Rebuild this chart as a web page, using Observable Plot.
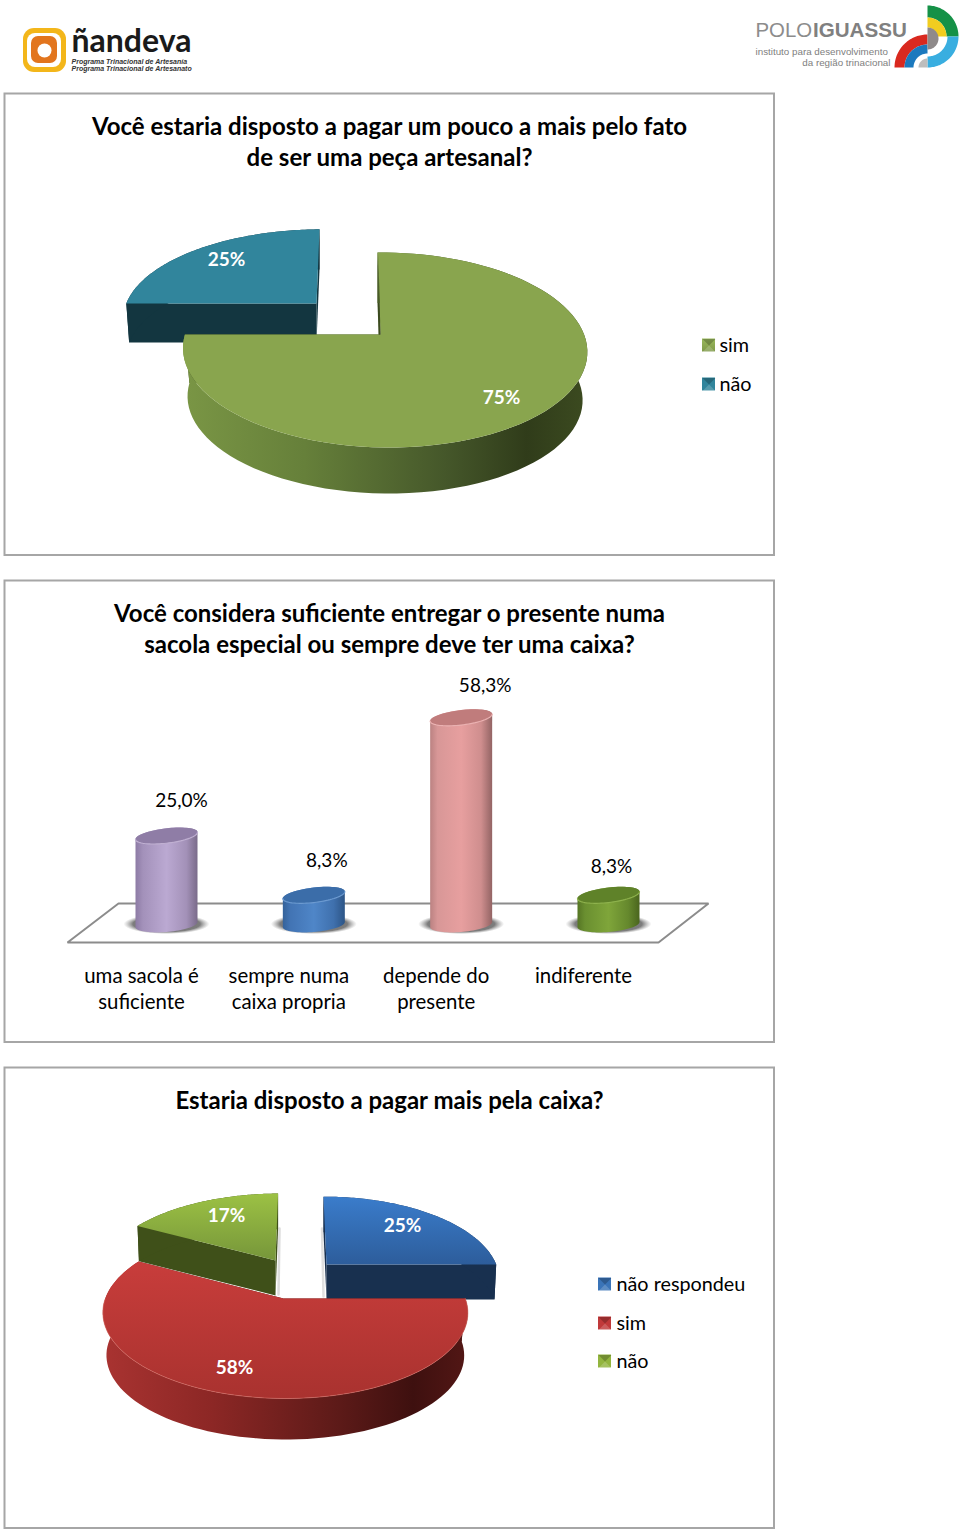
<!DOCTYPE html>
<html lang="pt">
<head>
<meta charset="utf-8">
<script src="https://cdn.jsdelivr.net/npm/d3@7"></script>
<script src="https://cdn.jsdelivr.net/npm/@observablehq/plot@0.6"></script>
<style>
html,body{margin:0;padding:0;background:#fff}
#page{position:relative;width:960px;height:1530px;overflow:hidden}
#page svg{position:absolute;left:0;top:0;display:block}
</style>
</head>
<body>
<div id="page"></div>
<script>
// ---------- data ----------
const q1Title = ["Você estaria disposto a pagar um pouco a mais pelo fato", "de ser uma peça artesanal?"];
const q1Labels = ["sim", "não"];
const q1Values = [75, 25];

const q2Title = ["Você considera suficiente entregar o presente numa", "sacola especial ou sempre deve ter uma caixa?"];
const q2Labels = ["uma sacola é\nsuficiente", "sempre numa\ncaixa propria", "depende do\npresente", "indiferente"];
const q2Values = [25.0, 8.3, 58.3, 8.3];

const q3Title = ["Estaria disposto a pagar mais pela caixa?"];
const q3Labels = ["não respondeu", "sim", "não"];
const q3Values = [25, 58, 17];

// ---------- layout and style ----------
const FONT = "Lato, 'Open Sans', sans-serif";
const SANS = "'Liberation Sans', Arial, sans-serif";

const q1Geom = [
  {cx:380, cy:334, Rx:199.5, Ry:95, k:.159, m:-.02, s:-3.5, d:48.6, taper:.977,
   top:"#89a54e", rim:"url(#rimGreen)", cut:"#3c4b1f"},
  {cx:316, cy:303, Rx:194, Ry:86, k:.159, m:-.02, s:3.5, d:39, taper:.985,
   top:"#31859c", rim:"#133640", cut:"#133640"}
];
const q3Geom = [
  {cx:326, cy:1264, Rx:168, Ry:79, k:.165, m:-.01, s:-3.5, d:35, taper:.99,
   top:"url(#topBlue)", rim:"#18304f", cut:"#18304f"},
  {cx:283, cy:1298, Rx:180, Ry:83.5, k:.165, m:-.01, s:0, d:43, taper:.98,
   top:"url(#topRed)", rim:"url(#rimRed)", cut:"#5a1614"},
  {cx:275, cy:1260, Rx:173, Ry:78, k:.165, m:-.01, s:3, d:35, taper:.99,
   top:"url(#topGreen)", rim:"#3f5019", cut:"#3f5019"}
];
const q1LabelPos = [[501,397],[226,259]];
const q3LabelPos = [[402,1225],[234,1367],[226,1215]];
const q1Legend = [["url(#topGreenFlat)",345],["#31859c",384]];
const q3Legend = [["#3a74b8",1284],["#c0393a",1323],["#93b53f",1361]];

const cylFill = ["url(#cyl0)","url(#cyl1)","url(#cyl2)","url(#cyl3)"];
const cylTop = ["#8f7da6","#3b6da9","#c07c7c","#5f8229"];
const cylEdge = ["#c0b0d2","#6c9ad0","#eab1b1","#8eb24d"];
const valueNudge = [[15,-35],[13,-34],[24,-32],[3,-28]];

// ---------- helpers ----------
const row = (x, y, extra = {}) => ({x, y, ...extra});
const poly = (pts, fill, extra = {}) =>
  Plot.line(pts, {x:"x", y:"y", fill, stroke:"none", ...extra});
const path = (pts, stroke, strokeWidth = 1, extra = {}) =>
  Plot.line(pts, {x:"x", y:"y", stroke, strokeWidth, ...extra});
const label = (x, y, text, o = {}) =>
  Plot.text([{x, y, text}], {x:"x", y:"y", text:"text", fontFamily:FONT, fill:"#000", ...o});
const box = (x1, y1, x2, y2, o = {}) =>
  Plot.rect([{x1,y1,x2,y2}], {x1:"x1", y1:"y1", x2:"x2", y2:"y2", ...o});

function project(g, a) {
  const u = Math.sin(a), v = Math.cos(a), w = 1 + g.k * v + g.m * u;
  return row(g.cx + (g.Rx * u + g.s * v) / w, g.cy - g.Ry * v / w);
}
const lower = g => ({...g, cy:g.cy + g.d, Rx:g.Rx * g.taper, Ry:g.Ry * g.taper});
const arc = (g, a0, a1, n = 90) => d3.range(n + 1).map(i => project(g, a0 + (a1 - a0) * i / n));

function sliceMarks(g, a0, a1) {
  const apex = row(g.cx, g.cy), under = row(g.cx, g.cy + g.d);
  const low = lower(g);
  return [
    poly([apex, project(g, a1), project(low, a1), under], g.cut),
    poly([apex, project(g, a0), project(low, a0), under], g.cut),
    poly([...arc(g, a0, a1), ...arc(low, a0, a1).reverse()], g.rim),
    poly([apex, ...arc(g, a0, a1)], g.top)
  ];
}
function pieMarks(values, geom, order) {
  const arcs = d3.pie().sort(null)(values);
  return order.flatMap(i => sliceMarks(geom[i], arcs[i].startAngle, arcs[i].endAngle));
}
function ring(cx, cy, r0, r1, a0, a1, fill) {
  const at = (r, a) => row(cx + r * Math.sin(a), cy - r * Math.cos(a));
  const pts = d3.range(41).map(i => a0 + (a1 - a0) * i / 40);
  return poly([...pts.map(a => at(r1, a)), ...pts.reverse().map(a => at(r0, a))], fill);
}
function swatch(color, cy, x) {
  const l = x, r = x + 13, t = cy - 6.5, b = cy + 6.5, mx = x + 6.5;
  return [
    box(l, t, r, b, {fill:color}),
    poly([row(l,t),row(r,t),row(mx,cy)], "#000", {fillOpacity:.22}),
    poly([row(l,b),row(r,b),row(mx,cy)], "#fff", {fillOpacity:.18})
  ];
}
function gradient(defs, id, stops, dir = "h") {
  const g = defs.append("linearGradient").attr("id", id)
    .attr("x1", 0).attr("y1", 0).attr("x2", dir === "h" ? 1 : 0).attr("y2", dir === "h" ? 0 : 1);
  stops.forEach(([o, c]) => g.append("stop").attr("offset", o).attr("stop-color", c));
}
const defsMark = () => {
  const defs = d3.create("svg:defs");
  gradient(defs, "rimGreen", [[0,"#7a9645"],[.3,"#66803a"],[.65,"#45572a"],[.85,"#303c1a"],[1,"#3c4b20"]]);
  gradient(defs, "rimRed", [[0,"#a93331"],[.3,"#8c2725"],[.65,"#5c1a18"],[.85,"#3e100f"],[1,"#531715"]]);
  gradient(defs, "topBlue", [[0,"#3a7ccb"],[1,"#2d5d9b"]], "v");
  gradient(defs, "topRed", [[0,"#c83d3b"],[1,"#a9322f"]], "v");
  gradient(defs, "topGreen", [[0,"#9cc144"],[1,"#76963a"]], "v");
  gradient(defs, "topGreenFlat", [[0,"#9ab95d"],[1,"#7f9a49"]], "v");
  gradient(defs, "cyl0", [[0,"#8d7ba5"],[.12,"#a391ba"],[.5,"#bba9d2"],[.82,"#a391b8"],[1,"#7a6b8a"]]);
  gradient(defs, "cyl1", [[0,"#34629a"],[.12,"#4274b4"],[.5,"#4f86c8"],[.82,"#3f70ad"],[1,"#2d5586"]]);
  gradient(defs, "cyl2", [[0,"#bb8282"],[.12,"#d89797"],[.5,"#e79f9f"],[.82,"#cf8e8e"],[1,"#936464"]]);
  gradient(defs, "cyl3", [[0,"#557524"],[.12,"#6a8f30"],[.5,"#7fa53a"],[.82,"#65882d"],[1,"#4a651e"]]);
  const s = defs.append("radialGradient").attr("id", "shadow");
  s.append("stop").attr("offset", 0).attr("stop-color", "#555").attr("stop-opacity", .9);
  s.append("stop").attr("offset", .78).attr("stop-color", "#5c5c5c").attr("stop-opacity", .8);
  s.append("stop").attr("offset", 1).attr("stop-color", "#888").attr("stop-opacity", 0);
  return defs.node();
};

// ---------- page layer: logos, frames, titles, pies, legends ----------
const titleOpt = {fontSize:24, fontWeight:700, textAnchor:"middle"};
const legendOpt = {fontSize:19.8, textAnchor:"start"};
const pct = {fontSize:19, fontWeight:700, fill:"#fff", textAnchor:"middle"};
const FRAME = {fill:"#fff", stroke:"#a6a6a6", strokeWidth:2};

const pageMarks = [
  defsMark,
  // ñandeva logo
  box(23,28,66,72, {fill:"#f3b61a", rx:11}),
  box(27,33,61,67, {fill:"#fff", rx:8}),
  box(31,36,57,63, {fill:"#e2751e", rx:7}),
  Plot.dot([row(44,50)], {x:"x", y:"y", r:7, fill:"#fff"}),
  label(71,41.5,"ñandeva", {fontSize:32, fontWeight:700, textAnchor:"start", fill:"#1a1a1a"}),
  label(71,61,"Programa Trinacional de Artesanía", {fontSize:7, fontWeight:700, fontStyle:"italic", fontFamily:SANS, textAnchor:"start", fill:"#333"}),
  label(71,68,"Programa Trinacional de Artesanato", {fontSize:7, fontWeight:700, fontStyle:"italic", fontFamily:SANS, textAnchor:"start", fill:"#333"}),
  // Polo Iguassu logo
  label(755,30,"POLO", {fontSize:20.4, fontFamily:SANS, textAnchor:"start", fill:"#8c8c8c"}),
  label(812.5,30,"IGUASSU", {fontSize:20.6, fontWeight:700, fontFamily:SANS, textAnchor:"start", fill:"#808080"}),
  label(755,51,"instituto para desenvolvimento", {fontSize:9.8, fontFamily:SANS, textAnchor:"start", fill:"#808080"}),
  label(890,62,"da região trinacional", {fontSize:9.8, fontFamily:SANS, textAnchor:"end", fill:"#808080"}),
  ring(927,36,19,31,0,Math.PI/2,"#159147"),
  ring(927,36,9,19,0,Math.PI/2,"#f2cd1f"),
  ring(927,36,20,31,Math.PI/2,Math.PI,"#39aee0"),
  ring(927,67,23,33,-Math.PI/2,0,"#d9291f"),
  ring(927,67,14,23,-Math.PI/2,0,"#1b79be"),
  ring(927,38,0,11,0,Math.PI,"#8f8a8a"),
  ring(927,67,0,9,-Math.PI/2,0,"#bdbdbd"),
  // frames
  box(4.5,93.5,774,555,FRAME),
  box(4.5,580.5,774,1042,FRAME),
  box(4.5,1067.5,774,1528,FRAME),
  // titles
  ...q1Title.map((t,i) => label(389,127+31*i,t,titleOpt)),
  ...q2Title.map((t,i) => label(389,614+31*i,t,titleOpt)),
  ...q3Title.map(t => label(389,1101,t,titleOpt)),
  // question 1 pie: blue slice behind, green in front
  ...pieMarks(q1Values, q1Geom, [1,0]),
  poly([row(377.8,252), row(378.2,334), row(380,334)], "#3c4b1f"),
  ...q1Values.map((v,i) => label(q1LabelPos[i][0], q1LabelPos[i][1], `${v}%`, pct)),
  ...q1Labels.flatMap((t,i) => [...swatch(q1Legend[i][0], q1Legend[i][1], 702), label(719,q1Legend[i][1],t,legendOpt)]),
  // floor of question 2
  path([row(118,903),row(708,903),row(658,942),row(67,942),row(118,903)], "#8c8c8c", 2, {strokeLinejoin:"miter"}),
  // question 3 pie
  path([row(279,1228),row(278,1294)], "#dcdcdc", 2.5),
  path([row(321.5,1228),row(323,1296)], "#e0e0e0", 2.5),
  ...pieMarks(q3Values, q3Geom, [2,0,1]),
  path(arc(q3Geom[1], Math.PI/2, 4.7), "#d66a62", 1, {strokeOpacity:.6}),
  ...q3Values.map((v,i) => label(q3LabelPos[i][0], q3LabelPos[i][1], `${v}%`, pct)),
  ...q3Labels.flatMap((t,i) => [...swatch(q3Legend[i][0], q3Legend[i][1], 598), label(616,q3Legend[i][1],t,legendOpt)])
];

const pagePlot = Plot.plot({
  width:960, height:1530, margin:0,
  x:{domain:[0,960], range:[0,960], axis:null},
  y:{domain:[0,1530], range:[0,1530], axis:null},
  style:{background:"transparent"},
  marks:pageMarks
});

// ---------- chart layer: cylinders on their own value scale ----------
const BASE = 924, PX = 3.55, X0 = 166, STEP = 147.33, HA = 31;
function ellipse(i, value, a0, a1, b, lean) {
  return d3.range(41).map(j => {
    const t = a0 + (a1 - a0) * j / 40;
    return row(i + HA * Math.cos(t) / STEP,
               value + (b * Math.sin(t) + lean * Math.cos(t)) / PX);
  });
}
function shadow(i) {
  return d3.range(61).map(j => {
    const t = 2 * Math.PI * j / 60;
    return row(i + (43 * Math.cos(t)) / STEP, (10 * Math.sin(t) + .5) / PX);
  });
}
const cylMarks = q2Values.flatMap((v,i) => [
  poly(shadow(i), "url(#shadow)"),
  poly([...ellipse(i, 0, Math.PI, 2*Math.PI, 7.5, 2.5), ...ellipse(i, v, 0, Math.PI, 7.5, 3.5)], cylFill[i]),
  poly(ellipse(i, v, 0, 2*Math.PI, 7.5, 3.5), cylTop[i]),
  path(ellipse(i, v, Math.PI, 2*Math.PI, 7.5, 3.5), cylEdge[i], 1.2)
]);
const chartPlot = Plot.plot({
  width:960, height:1530, margin:0,
  x:{domain:[0,3], range:[X0, X0 + 3*STEP], axis:null},
  y:{domain:[0,58.3], range:[BASE, BASE - 58.3*PX], axis:null},
  style:{background:"transparent"},
  marks:[
    defsMark,
    ...cylMarks,
    ...q2Values.map((v,i) => Plot.text([v], {
      x:() => i, y:d => d,
      text:d => d.toFixed(1).replace(".", ",") + "%",
      dx:valueNudge[i][0], dy:valueNudge[i][1],
      fontFamily:FONT, fontSize:19, fill:"#000"
    })),
    Plot.text(q2Labels, {
      x:(d,i) => i, y:() => 0, text:d => d,
      dx:-25, dy:40, lineHeight:1.28, lineAnchor:"top",
      fontFamily:FONT, fontSize:20.4, fill:"#000", textAnchor:"middle"
    })
  ]
});

document.getElementById("page").append(pagePlot, chartPlot);
</script>
</body>
</html>
